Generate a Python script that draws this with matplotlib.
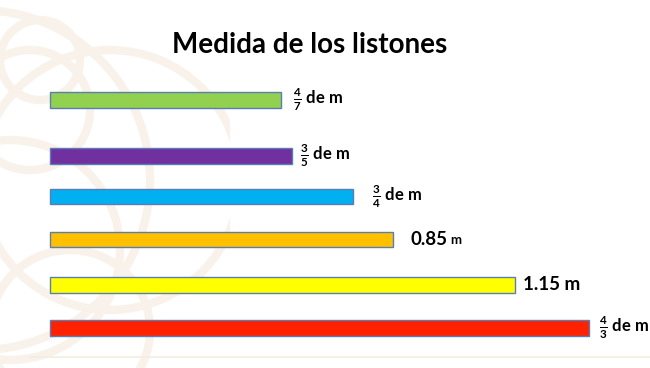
import matplotlib.pyplot as plt
from matplotlib.patches import Arc, Rectangle
import numpy as np

# data: length of each strip in metres, top to bottom
lengths = [4/7, 3/5, 3/4, 0.85, 1.15, 4/3]
labels = [r'$\frac{4}{7}$ de m', r'$\frac{3}{5}$ de m', r'$\frac{3}{4}$ de m',
          '0.85', '1.15 m', r'$\frac{4}{3}$ de m']
colors = ['#92D050', '#7030A0', '#00B0F0', '#FFC000', '#FFFF00', '#FF2200']

# layout (row positions are uneven in the original slide)
rows = np.array([0, 1.3, 2.25, 3.25, 4.3, 5.3])
pads = [12, 8, 19, 17, 8, 10]   # label gap in pixels

plt.rcParams['font.family'] = ['Lato', 'DejaVu Sans']
plt.rcParams['mathtext.fontset'] = 'custom'
plt.rcParams['mathtext.rm'] = 'Lato:bold'
plt.rcParams['mathtext.bf'] = 'Lato:bold'

fig = plt.figure(figsize=(6.5, 3.68), dpi=100)
fig.patch.set_facecolor('white')

# faint watermark decoration on the left
bg = fig.add_axes([0, 0, 1, 1])
bg.set_xlim(0, 650)
bg.set_ylim(368, 0)
bg.axis('off')
clip = Rectangle((0, 0), 230, 368, transform=bg.transData, visible=False)
bg.add_patch(clip)
for cx, cy, r in [(30, 110, 60), (10, 250, 110), (70, 330, 80), (40, 60, 40),
                  (110, 180, 130), (-20, 180, 170)]:
    a = Arc((cx, cy), 2*r, 2*r, theta1=0, theta2=360, color='#F8F2EA', lw=6)
    bg.add_patch(a)
    a.set_clip_path(clip)
bg.plot([30, 650], [357, 357], color='#F3ECE2', lw=1.2)

ax = fig.add_axes([0, 0, 1, 1])
ax.patch.set_alpha(0)
px_per_m = 404
ax.set_xlim(-50 / px_per_m, 600 / px_per_m)
ax.set_ylim(268 / 43, -100 / 43)
ax.axis('off')

ax.barh(rows, lengths, height=0.36, color=colors,
        edgecolor='#5B7DB1', linewidth=1.0)

for y, v, lab, p in zip(rows, lengths, labels, pads):
    if lab == '0.85':
        t = ax.annotate(lab, xy=(v, y), xytext=(p * 0.72, 0), textcoords='offset points',
                        ha='left', va='center', fontsize=13.5, fontweight='bold')
        ax.annotate('m', xy=(1, 0.12), xycoords=t, xytext=(2, 0), textcoords='offset points',
                    ha='left', va='bottom', fontsize=9.5, fontweight='bold')
    elif lab == '1.15 m':
        ax.annotate(lab, xy=(v, y), xytext=(p * 0.72, 0), textcoords='offset points',
                    ha='left', va='center', fontsize=13.5, fontweight='bold')
    else:
        ax.annotate(lab, xy=(v, y), xytext=(p * 0.72, 0), textcoords='offset points',
                    ha='left', va='center', fontsize=12, fontweight='bold')

fig.text(0.477, 0.877, 'Medida de los listones', ha='center', va='center',
         fontsize=20, fontweight='bold', color='black')

fig.savefig('out.png', dpi=100)
